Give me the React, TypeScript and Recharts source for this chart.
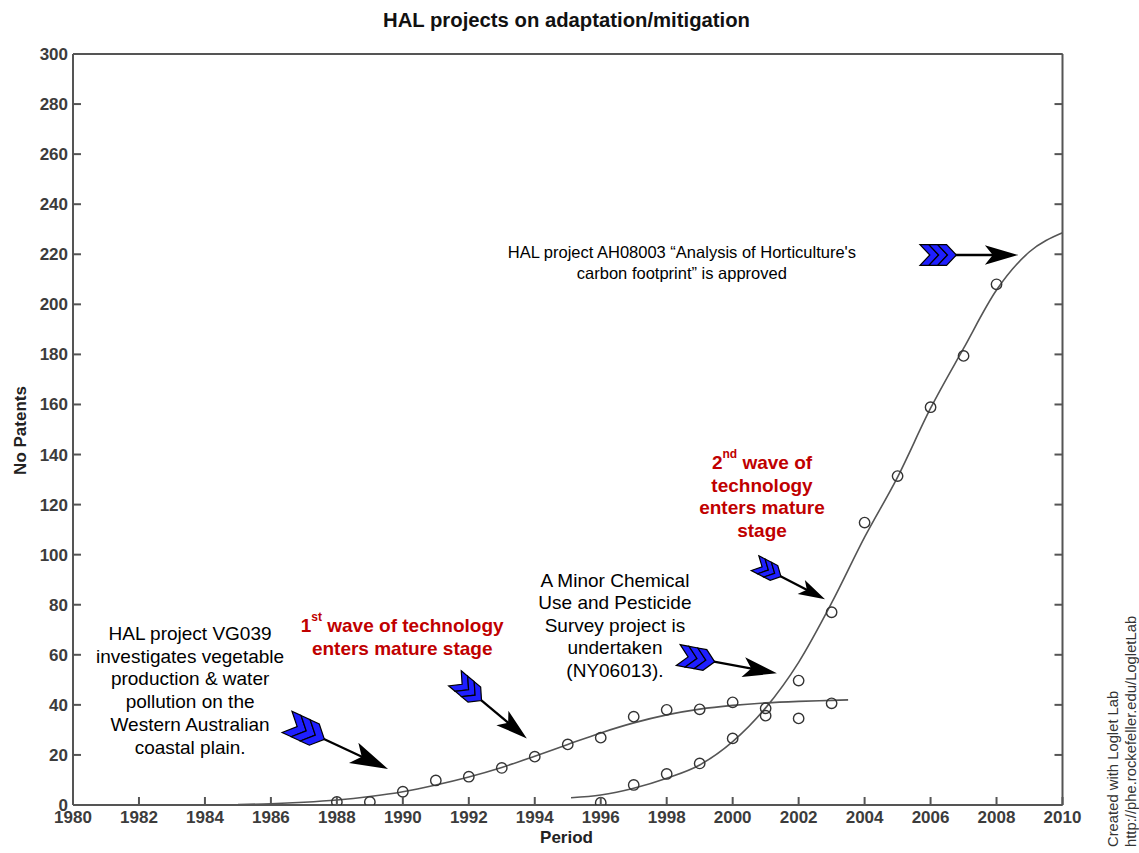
import React from 'react';
import {
  ComposedChart,
  Line,
  Scatter,
  XAxis,
  YAxis,
  ReferenceLine,
  ReferenceDot,
} from 'recharts';

const xTicks = [1980, 1982, 1984, 1986, 1988, 1990, 1992, 1994, 1996, 1998, 2000, 2002, 2004, 2006, 2008, 2010];
const yTicks = [0, 20, 40, 60, 80, 100, 120, 140, 160, 180, 200, 220, 240, 260, 280, 300];

// observed patents, first wave
const wave1Years = [1988, 1989, 1990, 1991, 1992, 1993, 1994, 1995, 1996, 1997, 1998, 1999, 2000, 2001, 2002, 2003];
const wave1Counts = [1.2, 1.2, 5.3, 9.8, 11.3, 14.8, 19.3, 24.2, 26.9, 35.3, 38, 38.2, 41, 35.7, 34.6, 40.6];

// observed patents, second wave
const wave2Years = [1996, 1997, 1998, 1999, 2000, 2001, 2002, 2003, 2004, 2005, 2006, 2007, 2008];
const wave2Counts = [0.9, 8, 12.4, 16.6, 26.6, 38.6, 49.7, 77, 112.8, 131.4, 158.9, 179.4, 208];

// fitted logistic curves
const fit1Years = [1985, 1986, 1987, 1988, 1989, 1990, 1991, 1992, 1993, 1994, 1995, 1996, 1997, 1998, 1999, 2000, 2001, 2002, 2003, 2003.5];
const fit1Values = [0.2, 0.5, 1.1, 2, 3.4, 5.3, 8, 11.2, 15, 19.5, 24.2, 28.8, 32.8, 36, 38.3, 39.8, 40.8, 41.4, 41.8, 42];
const fit2Years = [1995.1, 1996, 1997, 1998, 1999, 2000, 2001, 2002, 2003, 2004, 2005, 2006, 2007, 2008, 2009, 2010];
const fit2Values = [2.9, 4, 6.7, 10.7, 16, 25.3, 38.8, 57, 80.7, 107, 131, 158.5, 182.4, 205.7, 221, 228.6];

const toRows = (xs: number[], ys: number[]) => xs.map((year, i) => ({ year, v: ys[i] }));

const FONT = '"Liberation Sans", Arial, Helvetica, sans-serif';
const AXIS = '#555';
const RED = '#c00000';
const TICK_LEN = 8;

// matlab-style ticks: short mark pointing into the plot box, label outside
function BottomTick(props: any) {
  const { x, y, payload } = props;
  return (
    <g>
      <line x1={x} y1={y} x2={x} y2={y - TICK_LEN} stroke={AXIS} strokeWidth={2} />
      <text x={x} y={y + 18} textAnchor="middle" fontFamily={FONT} fontSize={17} fontWeight="bold" fill="#3c3c3c">
        {payload.value}
      </text>
    </g>
  );
}

function LeftTick(props: any) {
  const { x, y, payload } = props;
  return (
    <g>
      <line x1={x} y1={y} x2={x + TICK_LEN} y2={y} stroke={AXIS} strokeWidth={2} />
      <text x={x - 5} y={y + 6} textAnchor="end" fontFamily={FONT} fontSize={17} fontWeight="bold" fill="#3c3c3c">
        {payload.value}
      </text>
    </g>
  );
}

function TopTick(props: any) {
  const { x, y } = props;
  return <line x1={x} y1={y} x2={x} y2={y + TICK_LEN} stroke={AXIS} strokeWidth={2} />;
}

function RightTick(props: any) {
  const { x, y } = props;
  return <line x1={x} y1={y} x2={x - TICK_LEN} y2={y} stroke={AXIS} strokeWidth={2} />;
}

// blue-fletched clip-art arrow drawn between the two segment ends
function FletchedArrow(props: any) {
  const { x1, y1, x2, y2 } = props;
  const dx = x2 - x1;
  const dy = y2 - y1;
  const len = Math.sqrt(dx * dx + dy * dy);
  const deg = (Math.atan2(dy, dx) * 180) / Math.PI;
  const s = len / 100;
  const chevrons = [0, 9, 18].map((ox) =>
    [
      [ox, -10.5], [ox + 9, -10.5], [ox + 19, 0], [ox + 9, 10.5], [ox, 10.5], [ox + 10, 0],
    ].map(([a, b]) => `${a * s},${b * s}`).join(' ')
  );
  return (
    <g transform={`translate(${x1},${y1}) rotate(${deg})`}>
      <line x1={28 * s} y1={0} x2={80 * s} y2={0} stroke="#000" strokeWidth={2.3} />
      {chevrons.map((pts, i) => (
        <polygon key={i} points={pts} fill="#1f1fff" stroke="#000" strokeWidth={1.2} />
      ))}
      <polygon
        points={`${100 * s},0 ${66 * s},${-10 * s} ${74 * s},0 ${66 * s},${10 * s}`}
        fill="#000"
      />
    </g>
  );
}

function note(lines: React.ReactNode[], size: number, lh: number, bold = false, color = '#000') {
  return (p: any) => (
    <text
      x={p.cx}
      y={p.cy}
      textAnchor="middle"
      dominantBaseline="central"
      fontFamily={FONT}
      fontSize={size}
      fontWeight={bold ? 'bold' : 'normal'}
      fill={color}
    >
      {lines.map((l, i) => (
        <tspan key={i} x={p.cx} dy={i === 0 ? 0 : lh}>
          {l}
        </tspan>
      ))}
    </text>
  );
}

const sup = (base: string, s: string, rest: string) => (
  <>
    {base}
    <tspan fontSize={12} dy={-8}>{s}</tspan>
    <tspan dy={8}>{rest}</tspan>
  </>
);

function CircleMark(props: any) {
  const { cx, cy } = props;
  return <circle cx={cx} cy={cy} r={5.2} fill="none" stroke="#333" strokeWidth={1.4} />;
}

export default function App() {
  return (
    <div style={{ position: 'absolute', left: 0, top: 0, width: 1139, height: 853, background: '#fff' }}>
      <ComposedChart
        width={1139}
        height={853}
        margin={{ top: 53, right: 75.5, bottom: 8, left: 13 }}
      >
        <XAxis
          dataKey="year"
          type="number"
          domain={[1980, 2010]}
          ticks={xTicks}
          interval={0}
          allowDataOverflow
          height={40}
          tickSize={0}
          tickMargin={0}
          tick={BottomTick}
          tickLine={false}
          axisLine={{ stroke: AXIS, strokeWidth: 2 }}
        />
        <XAxis
          xAxisId="top"
          orientation="top"
          type="number"
          domain={[1980, 2010]}
          ticks={xTicks}
          interval={0}
          allowDataOverflow
          height={1}
          tickSize={0}
          tickMargin={0}
          tick={TopTick}
          tickLine={false}
          axisLine={{ stroke: AXIS, strokeWidth: 2 }}
        />
        <YAxis
          dataKey="v"
          type="number"
          domain={[0, 300]}
          ticks={yTicks}
          interval={0}
          allowDataOverflow
          width={60}
          tickSize={0}
          tickMargin={0}
          tick={LeftTick}
          tickLine={false}
          axisLine={{ stroke: AXIS, strokeWidth: 2 }}
        />
        <YAxis
          yAxisId="right"
          orientation="right"
          type="number"
          domain={[0, 300]}
          ticks={yTicks}
          interval={0}
          allowDataOverflow
          width={1}
          tickSize={0}
          tickMargin={0}
          tick={RightTick}
          tickLine={false}
          axisLine={{ stroke: AXIS, strokeWidth: 2 }}
        />

        <Line
          data={toRows(fit1Years, fit1Values)}
          dataKey="v"
          type="monotone"
          stroke="#555"
          strokeWidth={1.6}
          dot={false}
          isAnimationActive={false}
        />
        <Line
          data={toRows(fit2Years, fit2Values)}
          dataKey="v"
          type="monotone"
          stroke="#555"
          strokeWidth={1.6}
          dot={false}
          isAnimationActive={false}
        />
        <Scatter data={toRows(wave1Years, wave1Counts)} dataKey="v" shape={CircleMark} isAnimationActive={false} />
        <Scatter data={toRows(wave2Years, wave2Counts)} dataKey="v" shape={CircleMark} isAnimationActive={false} />

        <ReferenceLine segment={[{ x: 1986.49, y: 33.2 }, { x: 1989.55, y: 14.4 }]} shape={FletchedArrow} />
        <ReferenceLine segment={[{ x: 1991.58, y: 50.6 }, { x: 1993.76, y: 26.6 }]} shape={FletchedArrow} />
        <ReferenceLine segment={[{ x: 1998.35, y: 59.9 }, { x: 2001.34, y: 52.6 }]} shape={FletchedArrow} />
        <ReferenceLine segment={[{ x: 2000.68, y: 96.6 }, { x: 2002.8, y: 82.2 }]} shape={FletchedArrow} />
        <ReferenceLine segment={[{ x: 2005.68, y: 219.7 }, { x: 2008.66, y: 219.7 }]} shape={FletchedArrow} />

        <ReferenceDot
          x={1983.55}
          y={68.7}
          r={0}
          shape={note(
            ['HAL project VG039', 'investigates vegetable', 'production & water', 'pollution on the', 'Western Australian', 'coastal plain.'],
            19,
            22.7
          )}
        />
        <ReferenceDot
          x={1989.98}
          y={71.9}
          r={0}
          shape={note([sup('1', 'st', ' wave of technology'), 'enters mature stage'], 19, 22.5, true, RED)}
        />
        <ReferenceDot
          x={1996.43}
          y={89.9}
          r={0}
          shape={note(
            ['A Minor Chemical', 'Use and Pesticide', 'Survey project is', 'undertaken', '(NY06013).'],
            19,
            22.5
          )}
        />
        <ReferenceDot
          x={2000.89}
          y={137}
          r={0}
          shape={note([sup('2', 'nd', '  wave of'), 'technology', 'enters mature', 'stage'], 19, 22.7, true, RED)}
        />
        <ReferenceDot
          x={1998.46}
          y={220.9}
          r={0}
          shape={note(['HAL project AH08003 \u201CAnalysis of Horticulture\'s', 'carbon footprint\u201D is approved'], 16.5, 20.5)}
        />
      </ComposedChart>

      <svg
        width={1139}
        height={853}
        style={{ position: 'absolute', left: 0, top: 0, pointerEvents: 'none' }}
        fontFamily={FONT}
      >
        <text x={566.5} y={27} textAnchor="middle" fontSize={20.3} fontWeight="bold" fill="#111">
          HAL projects on adaptation/mitigation
        </text>
        <text x={566.5} y={843} textAnchor="middle" fontSize={17} fontWeight="bold" fill="#222">
          Period
        </text>
        <text
          transform="translate(26,430.5) rotate(-90)"
          textAnchor="middle"
          fontSize={17}
          fontWeight="bold"
          fill="#222"
        >
          No Patents
        </text>
        <text transform="translate(1118,847) rotate(-90)" fontSize={14.8} fill="#333">
          Created with Loglet Lab
        </text>
        <text transform="translate(1136,847) rotate(-90)" fontSize={14.8} fill="#333">
          http://phe.rockefeller.edu/LogletLab
        </text>
      </svg>
    </div>
  );
}
